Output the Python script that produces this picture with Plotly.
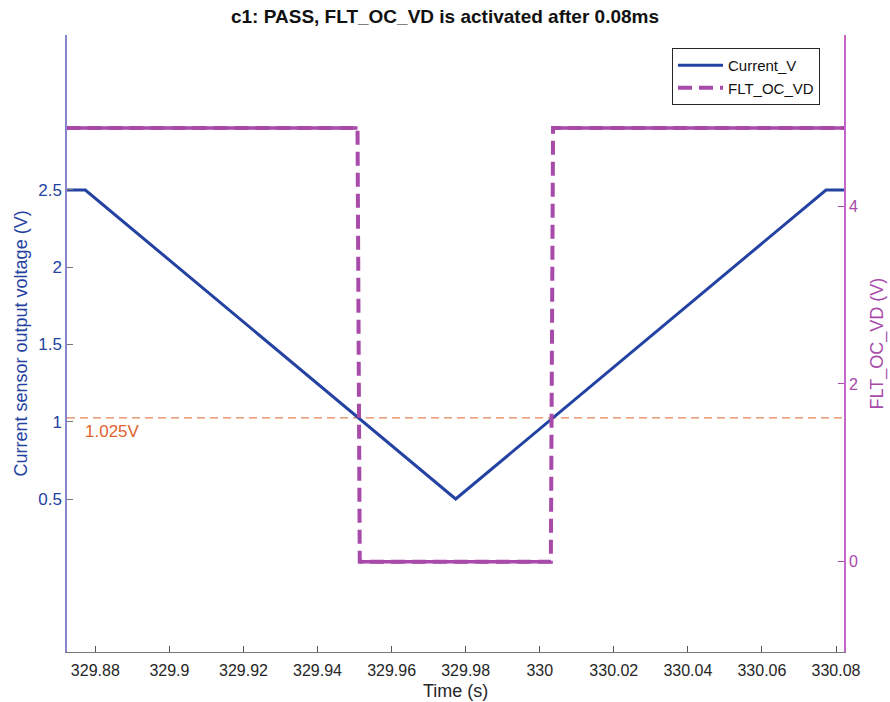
import plotly.graph_objects as go

# ---- data ----
cur_t = [329.8722, 329.8773, 329.9773, 330.0773, 330.0822]
cur_v = [2.5, 2.5, 0.5, 2.5, 2.5]

flt_t = [329.8722, 329.9508, 329.9514, 330.0030, 330.0036, 330.0822]
flt_v = [4.88, 4.88, 0.0, 0.0, 4.88, 4.88]

threshold = 1.025
threshold_label = "1.025V"

x_ticks = [329.88, 329.90, 329.92, 329.94, 329.96, 329.98, 330.00, 330.02, 330.04, 330.06, 330.08]
x_tick_text = ["329.88", "329.9", "329.92", "329.94", "329.96", "329.98", "330", "330.02", "330.04", "330.06", "330.08"]
y1_ticks = [0.5, 1, 1.5, 2, 2.5]
y1_tick_text = ["0.5", "1", "1.5", "2", "2.5"]
y2_ticks = [0, 2, 4]

title_text = "c1: PASS, FLT_OC_VD is activated after 0.08ms"
x_title = "Time (s)"
y1_title = "Current sensor output voltage (V)"
y2_title = "FLT_OC_VD (V)"

BLUE = "#2442a2"
PURPLE = "#a84aaa"
ORANGE = "#e0632c"
FONT = "Liberation Sans, Arial, sans-serif"

W, H = 890, 702
L, R, T, B = 67, 46, 35, 50
PW, PH = W - L - R, H - T - B

fig = go.Figure()

# solid overlay for the horizontal FLT segments (dense noisy data looks solid)
hx, hy = [], []
for i in range(len(flt_t) - 1):
    if flt_v[i] == flt_v[i + 1]:
        hx += [flt_t[i], flt_t[i + 1], None]
        hy += [flt_v[i], flt_v[i + 1], None]

fig.add_trace(go.Scatter(x=cur_t, y=cur_v, mode="lines", name="Current_V",
                         line=dict(color=BLUE, width=3), yaxis="y"))
fig.add_trace(go.Scatter(x=flt_t, y=flt_v, mode="lines", name="FLT_OC_VD",
                         line=dict(color=PURPLE, width=4, dash="14px,7px"), yaxis="y2"))
fig.add_trace(go.Scatter(x=hx, y=hy, mode="lines", showlegend=False,
                         line=dict(color=PURPLE, width=3.5), yaxis="y2", hoverinfo="skip"))

fig.add_shape(type="line", xref="paper", x0=0, x1=1, yref="y", y0=threshold, y1=threshold,
              line=dict(color=ORANGE, width=1, dash="8px,5px"), layer="below")
fig.add_annotation(xref="x", x=329.8767, yref="y", y=threshold, text=threshold_label,
                   showarrow=False, xanchor="left", yanchor="middle", yshift=-14,
                   font=dict(family=FONT, size=17, color=ORANGE))

# axis titles as annotations (placed in pixels relative to the plot area)
fig.add_annotation(xref="paper", yref="paper", x=(20 - L) / PW, y=0.5, text=y1_title,
                   textangle=-90, showarrow=False, xanchor="center", yanchor="middle",
                   font=dict(family=FONT, size=18, color=BLUE))
fig.add_annotation(xref="paper", yref="paper", x=(877 - L) / PW, y=0.5, text=y2_title,
                   textangle=-90, showarrow=False, xanchor="center", yanchor="middle",
                   font=dict(family=FONT, size=18, color=PURPLE))
fig.add_annotation(xref="paper", yref="paper", x=0.5, y=-(691 - (T + PH)) / PH, text=x_title,
                   showarrow=False, xanchor="center", yanchor="middle",
                   font=dict(family=FONT, size=18, color="#262626"))

fig.update_layout(
    template="none",
    width=W, height=H,
    margin=dict(l=L, r=R, t=T, b=B, pad=0),
    paper_bgcolor="white", plot_bgcolor="white",
    title=dict(text="<b>" + title_text + "</b>", x=0.5, xanchor="center",
               y=1 - 16 / H, yanchor="middle",
               font=dict(family=FONT, size=19, color="#111111")),
    font=dict(family=FONT, size=16, color="#262626"),
    showlegend=True,
    legend=dict(x=(672 - L) / PW, y=1 - (48 - T) / PH, xanchor="left", yanchor="top",
                bordercolor="#262626", borderwidth=1, bgcolor="white",
                font=dict(family=FONT, size=15, color="#111111"),
                tracegroupgap=0, itemwidth=45),
    xaxis=dict(range=[329.87235, 330.08216], tickvals=x_ticks, ticktext=x_tick_text,
               ticks="inside", ticklen=6, tickcolor="#555555", showgrid=False, zeroline=False,
               showline=True, linecolor="#777777", linewidth=1, automargin=False,
               ticklabelstandoff=4,
               tickfont=dict(family=FONT, size=16, color="#262626")),
    yaxis=dict(range=[-0.49, 3.503], tickvals=y1_ticks, ticktext=y1_tick_text,
               ticks="inside", ticklen=6, tickcolor="#777777", showgrid=False, zeroline=False,
               showline=True, linecolor="#8585cc", linewidth=1.5, automargin=False,
               tickfont=dict(family=FONT, size=17, color=BLUE)),
    yaxis2=dict(range=[-1.016, 5.925], tickvals=y2_ticks, overlaying="y", side="right",
                ticks="inside", ticklen=6, tickcolor=PURPLE, showgrid=False, zeroline=False,
                showline=True, linecolor="#c466c8", linewidth=1.5, automargin=False,
                tickfont=dict(family=FONT, size=16, color=PURPLE)),
)

fig.write_html(
    "out.html",
    config={"displayModeBar": False},
    post_script="document.body.style.margin='0';document.body.style.overflow='hidden';",
)
